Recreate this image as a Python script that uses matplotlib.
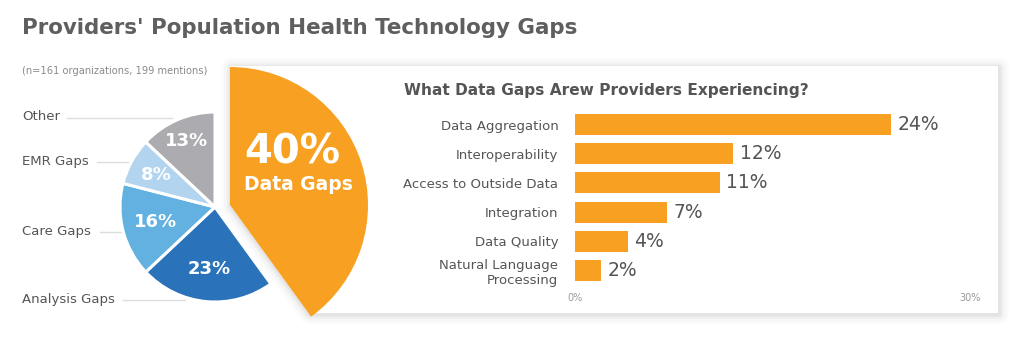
import numpy as np
import matplotlib

matplotlib.use("Agg")

import matplotlib.pyplot as plt
from matplotlib.patches import Polygon

W, H = 1024, 344

ORANGE = "#F7A021"
TITLE_COLOR = "#5f5f5f"
TEXT_COLOR = "#555555"
LINE_COLOR = "#dddddd"

# pie: share of mentions by gap type (clockwise from 12 o'clock)
gap_types = ["Data Gaps", "Analysis Gaps", "Care Gaps", "EMR Gaps", "Other"]
gap_share = [40, 23, 16, 8, 13]
gap_colors = [ORANGE, "#2A73BA", "#62B1E1", "#B2D4EF", "#ACACB0"]

# bars: breakdown of data gaps
data_gap_labels = ["Data Aggregation", "Interoperability", "Access to Outside Data",
                   "Integration", "Data Quality", "Natural Language\nProcessing"]
data_gap_values = [24, 12, 11, 7, 4, 2]
axis_ticks = [0, 30]


def Y(y):
    return H - y


fig = plt.figure(figsize=(W / 100, H / 100), dpi=100, facecolor="white")
ax = fig.add_axes([0, 0, 1, 1])

center = (215, Y(207))
wedges, _ = ax.pie(gap_share, colors=gap_colors, startangle=90, counterclock=False,
                   center=center, radius=95,
                   wedgeprops=dict(edgecolor="white", linewidth=2.2))
for w in wedges:
    w.set_zorder(3)

# pull the data gaps slice out and enlarge it
big = wedges[0]
apex = (230, Y(205))
big.set_center(apex)
big.set_radius(138)
big.set_linewidth(0)
big.set_zorder(4)

# white panel that hugs the enlarged slice, with a soft shadow
top, bottom, right = Y(66), Y(313), 998
ang = np.deg2rad(big.theta1)
x_cut = apex[0] + (apex[1] - bottom) / np.tan(-ang)
panel_pts = [(apex[0], top), (right, top), (right, bottom), (x_cut, bottom), apex]
for lw, a in [(14, 0.015), (10, 0.02), (6, 0.03), (3, 0.04)]:
    shifted = [(x + 1, y - 1.5) for x, y in panel_pts]
    ax.add_patch(Polygon(shifted, closed=True, facecolor="none", edgecolor="black",
                         lw=lw, alpha=a, joinstyle="round", zorder=1))
ax.add_patch(Polygon(panel_pts, closed=True, facecolor="white", lw=0, zorder=2))

label_dist = [None, 0.66, 0.65, 0.71, 0.76]
for w, val, d in zip(wedges[1:], gap_share[1:], label_dist[1:]):
    mid = np.deg2rad((w.theta1 + w.theta2) / 2)
    ax.text(center[0] + d * 95 * np.cos(mid), center[1] + d * 95 * np.sin(mid), f"{val}%",
            ha="center", va="center", color="white", fontsize=13, fontweight="bold", zorder=5)

ax.text(292, Y(153), f"{gap_share[0]}%", ha="center", va="center", color="white",
        fontsize=29, fontweight="bold", zorder=5)
ax.text(298, Y(185), gap_types[0], ha="center", va="center", color="white",
        fontsize=13.5, fontweight="bold", zorder=5)

# left-hand labels with leader lines
left_labels = [("Other", 117, 67, 172), ("EMR Gaps", 161, 97, 128),
               ("Care Gaps", 231, 100, 122), ("Analysis Gaps", 299, 123, 185)]
for name, ly, lx0, lx1 in left_labels:
    ax.text(22, Y(ly), name, ha="left", va="center", color=TEXT_COLOR, fontsize=9.5)
    ax.plot([lx0, lx1], [Y(ly + 1), Y(ly + 1)], color=LINE_COLOR, lw=1, zorder=2)

ax.text(22, Y(28), "Providers' Population Health Technology Gaps", ha="left", va="center",
        color=TITLE_COLOR, fontsize=15.4, fontweight="bold")
ax.text(22, Y(71), "(n=161 organizations, 199 mentions)", ha="left", va="center",
        color="#8a8a8a", fontsize=7.1)
ax.text(404, Y(90), "What Data Gaps Arew Providers Experiencing?", ha="left", va="center",
        color=TEXT_COLOR, fontsize=11.1, fontweight="bold", zorder=6)

ax.set_xlim(0, W)
ax.set_ylim(0, H)
ax.set_aspect("auto")
ax.axis("off")

# bar chart
bx0, bx1, by0, by1 = 575, 970, 110, 285
bax = fig.add_axes([bx0 / W, 1 - by1 / H, (bx1 - bx0) / W, (by1 - by0) / H])
bax.set_facecolor("none")
ypos = np.arange(len(data_gap_values))
bars = bax.barh(ypos, data_gap_values, height=0.72, color=ORANGE)
for rect, val in zip(bars, data_gap_values):
    bax.text(rect.get_width() + 0.5, rect.get_y() + rect.get_height() / 2, f"{val}%",
             ha="left", va="center", color=TEXT_COLOR, fontsize=13.5)
bax.set_xlim(axis_ticks[0], axis_ticks[-1])
bax.set_ylim(len(data_gap_values) - 0.5, -0.5)
bax.set_yticks(ypos, labels=data_gap_labels)
bax.set_xticks(axis_ticks, labels=[f"{t}%" for t in axis_ticks])
bax.tick_params(axis="y", length=0, pad=12, labelsize=9.5, labelcolor=TEXT_COLOR)
bax.tick_params(axis="x", length=0, pad=6, labelsize=7, labelcolor="#999999")
for label in bax.get_yticklabels():
    label.set_horizontalalignment("right")
for spine in bax.spines.values():
    spine.set_visible(False)

fig.savefig("out.png", dpi=100, facecolor="white")
